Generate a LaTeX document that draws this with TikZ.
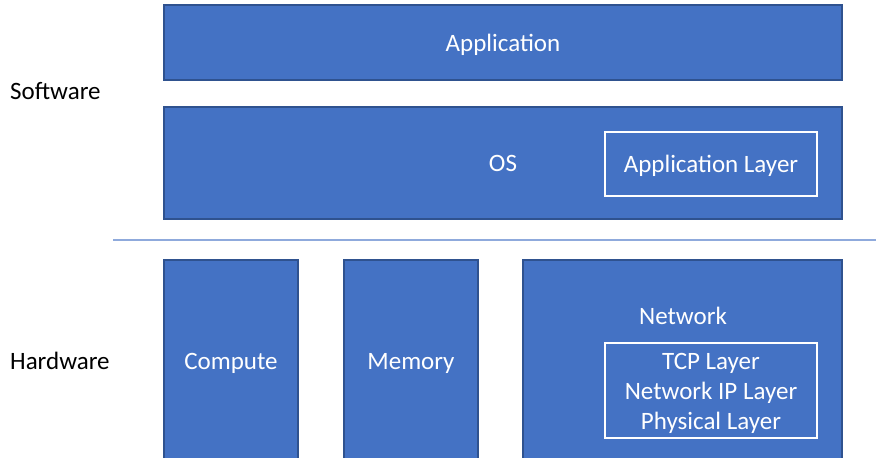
\documentclass[tikz,border=0pt]{standalone}
\usepackage{fontspec}
\setmainfont{Carlito}
\definecolor{boxblue}{HTML}{4472C4}
\definecolor{boxedge}{HTML}{2F528F}
\definecolor{sepline}{HTML}{8FAADC}
\tikzset{
  layerbox/.style={rectangle, draw=boxedge, line width=1.2pt, fill=boxblue, text=white, inner sep=0pt, text height=17pt, text depth=0pt},
  innerbox/.style={rectangle, draw=white, line width=1.2pt, text=white, inner sep=0pt, text height=17pt, text depth=0pt},
  sidelabel/.style={anchor=west, inner sep=0pt, text=black}
}
\begin{document}
\begin{tikzpicture}[x=1pt, y=-1pt, font=\fontsize{25}{30}\selectfont]
\useasboundingbox (0,0) rectangle (876,458);
\clip (0,0) rectangle (876,458);

\node[layerbox, minimum width=678pt, minimum height=75pt] (app) at (503,42.5){Application};
\node[layerbox, minimum width=678pt, minimum height=112pt] (os) at (503,163){OS};
\node[innerbox, minimum width=212pt, minimum height=64pt] (applayer) at (711,164){Application Layer};

\coordinate (sepl) at (113,240);
\coordinate (sepr) at (876,240);
\draw[sepline, line width=1.5pt] (sepl) -- (sepr);

\node[layerbox, minimum width=134pt, minimum height=202pt] (compute) at (231,361){Compute};
\node[layerbox, minimum width=134pt, minimum height=202pt] (memory) at (411,361){Memory};
\node[layerbox, minimum width=319pt, minimum height=202pt] (network) at (682.5,361){};
\node[text=white, inner sep=0pt, text height=17pt, text depth=0pt] (netlabel) at (683,316){Network};
\node[innerbox, minimum width=212pt, minimum height=95pt] (netstack) at (711,390.5){};
\node[text=white, inner sep=0pt, align=center] (netlayers) at (711,393){TCP Layer\\Network IP Layer\\Physical Layer};

\node[sidelabel] (sw) at (10,91){Software};
\node[sidelabel] (hw) at (10,361){Hardware};

\end{tikzpicture}
\end{document}
